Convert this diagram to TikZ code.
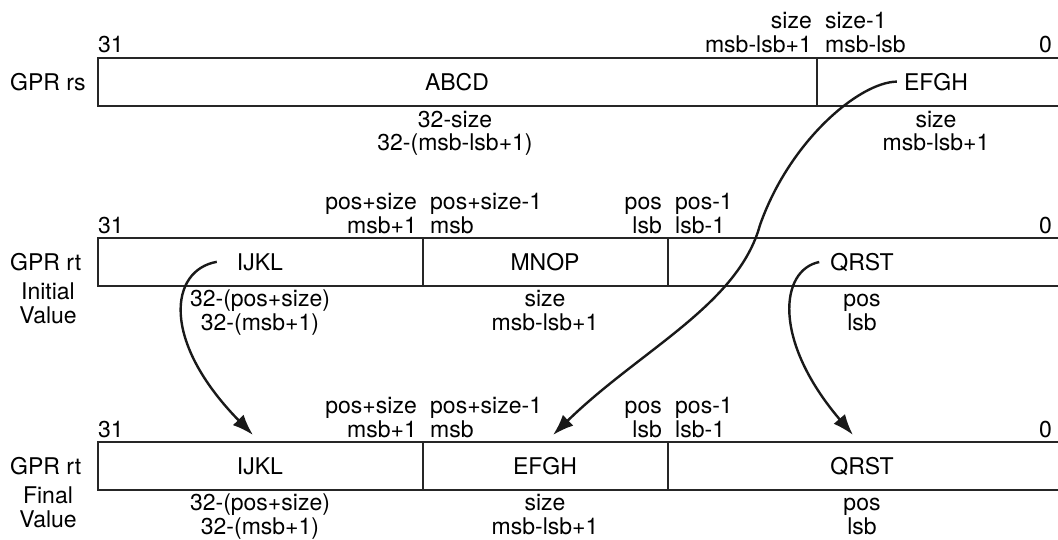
\documentclass[tikz,border=0pt]{standalone}
\usepackage{fontspec}
\setmainfont{TeX Gyre Heros}
\usetikzlibrary{arrows.meta}

\begin{document}
\begin{tikzpicture}[x = 1pt, y = -1pt, > = {Latex[length=21pt, width=15pt]},
	every node/.style = {font=\fontsize{23}{23.5}\selectfont, inner sep=0pt},
	reg/.style = {line width=2.6pt, draw=black!85},
	move/.style = {->, line width=2.4pt, draw=black!90}]
	
	\useasboundingbox (0, 0) rectangle (1058, 539);
	
	% Source register GPR rs
	
	\draw [reg] (1058, 58) -- (98, 58) -- (98, 106) -- (1058, 106);
	\draw [reg] (817, 58) -- (817, 106);
	
	\node [anchor=base west] (rs-gpr) at (10, 90) {GPR rs};
	\node [anchor=base west] (rs-31) at (98, 52) {31};
	\node [anchor=base east] (rs-0) at (1052, 52) {0};
	\node [anchor=base east, align=right] (rs-size) at (812, 52) {size\\msb-lsb+1};
	\node [anchor=base west, align=left] (rs-size1) at (825, 52) {size-1\\msb-lsb};
	
	\node [anchor=base] (rs-abcd) at (457, 90) {ABCD};
	\node [anchor=base] (rs-efgh) at (936, 90) {EFGH};
	
	\node [anchor=base, align=center] (rs-width-a) at (455, 150.5) {32-size\\32-(msb-lsb+1)};
	\node [anchor=base, align=center] (rs-width-b) at (936, 150.5) {size\\msb-lsb+1};
	
	% Target register GPR rt, before and after
	
	\foreach \r/\yt/\fld/\stage in {ini/238/MNOP/Initial, fin/442/EFGH/Final} {
		
		\draw [reg] (1058, \yt) -- (98, \yt) -- (98, \yt+48) -- (1058, \yt+48);
		\draw [reg] (423, \yt) -- (423, \yt+48) (668, \yt) -- (668, \yt+48);
		
		\node [anchor=base west] (\r-gpr) at (10, \yt+32) {GPR rt};
		\node [anchor=base, align=center] (\r-stage) at (48, \yt+85) {\stage\\Value};
		
		\node [anchor=base west] (\r-31) at (98, \yt-5) {31};
		\node [anchor=base east] (\r-0) at (1052, \yt-5) {0};
		\node [anchor=base east, align=right] (\r-msb1) at (417, \yt-5) {pos+size\\msb+1};
		\node [anchor=base west, align=left] (\r-msb) at (430, \yt-5) {pos+size-1\\msb};
		\node [anchor=base east, align=right] (\r-lsb) at (662, \yt-5) {pos\\lsb};
		\node [anchor=base west, align=left] (\r-lsb1) at (675, \yt-5) {pos-1\\lsb-1};
		
		\node [anchor=base] (\r-ijkl) at (260, \yt+32) {IJKL};
		\node [anchor=base] (\r-mid) at (545, \yt+32) {\fld};
		\node [anchor=base] (\r-qrst) at (862, \yt+32) {QRST};
		
		\node [anchor=base, align=center] (\r-width-a) at (260, \yt+92) {32-(pos+size)\\32-(msb+1)};
		\node [anchor=base, align=center] (\r-width-b) at (545, \yt+92) {size\\msb-lsb+1};
		\node [anchor=base, align=center] (\r-width-c) at (862, \yt+92) {pos\\lsb};
		
	}
	
	% Where the moved fields land
	
	\coordinate (ijkl-tip) at (253, 435);
	\coordinate (efgh-tip) at (553, 435);
	\coordinate (qrst-tip) at (853, 435);
	
	\draw [move] ([xshift=-7pt]rs-efgh.west) .. controls (860, 82) and (790, 140) .. (760, 225)
		.. controls (738, 305) and (640, 350) .. (efgh-tip);
	\draw [move] ([xshift=-20pt]ini-ijkl.west) .. controls (170, 270) and (160, 340) .. (ijkl-tip);
	\draw [move] ([xshift=-11pt]ini-qrst.west) .. controls (780, 270) and (772, 340) .. (qrst-tip);

\end{tikzpicture}
\end{document}
